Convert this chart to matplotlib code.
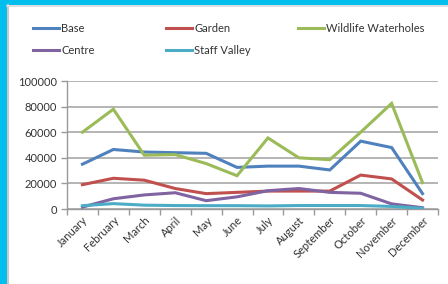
import matplotlib
matplotlib.use("Agg")
import matplotlib.pyplot as plt
from matplotlib.patches import Rectangle
from matplotlib.lines import Line2D

plt.rcParams['font.family'] = ['Lato', 'DejaVu Sans']

months = ["January", "February", "March", "April", "May", "June", "July",
          "August", "September", "October", "November", "December"]
base = [35000, 46500, 44500, 44000, 43500, 32500, 33500, 33500, 30500, 53000, 48000, 12000]
garden = [19000, 24000, 22500, 16000, 12000, 13000, 14000, 14000, 14000, 26500, 23500, 7000]
wildlife = [60000, 78000, 42000, 42500, 35500, 26000, 55500, 40000, 38500, 60000, 82500, 20500]
centre = [1500, 8000, 11000, 12700, 6500, 9500, 14300, 16000, 13000, 12300, 4000, 1000]
staff = [2600, 4200, 3000, 2700, 2600, 2600, 2400, 2700, 2700, 2700, 2000, 500]

series = [("Base", base, "#4F81BD"),
          ("Garden", garden, "#C0504D"),
          ("Wildlife Waterholes", wildlife, "#9BBB59"),
          ("Centre", centre, "#8064A2"),
          ("Staff Valley", staff, "#4BACC6")]

W, H = 448, 284
fig = plt.figure(figsize=(W / 100, H / 100), dpi=100, facecolor="#00BEEE")

# white panel with thin grey edge on left/top
fig.patches.append(Rectangle((7 / W, 0), 1, 1 - 5 / H, transform=fig.transFigure,
                             facecolor="white", edgecolor="none", zorder=-5))
fig.lines.append(Line2D([8 / W, 8 / W], [0, 1 - 5 / H], transform=fig.transFigure,
                        color="#c8c8c8", lw=1.5, zorder=-4))
fig.lines.append(Line2D([7 / W, 1], [1 - 6 / H, 1 - 6 / H], transform=fig.transFigure,
                        color="#d8d8d8", lw=1.2, zorder=-4))

ax = fig.add_axes([67 / W, 1 - 209 / H, (438 - 67) / W, (209 - 81) / H])
ax.set_facecolor("none")
x = list(range(len(months)))
handles = {}
for name, vals, col in series:
    h, = ax.plot(x, vals, color=col, lw=2.2, solid_joinstyle="miter", zorder=3)
    handles[name] = h

ax.set_xlim(-0.5, 11.5)
ax.set_ylim(0, 100000)
ax.set_yticks(range(0, 100001, 20000))
ax.set_yticklabels([str(v) for v in range(0, 100001, 20000)], fontsize=8, color="#333333")
ax.yaxis.grid(True, color="#b4b4b4", lw=1.4)
ax.set_axisbelow(True)
ax.set_xticks([i - 0.5 for i in range(13)], minor=False)
ax.set_xticklabels([])
ax.set_xticks(x, minor=True)
ax.set_xticklabels(months, minor=True, rotation=45, ha="right", va="top",
                   rotation_mode="anchor", fontsize=8, color="#333333")
ax.tick_params(axis="x", which="minor", length=0, pad=4)
ax.tick_params(axis="x", which="major", length=4, color="#999999", width=1)
ax.tick_params(axis="y", length=4, color="#999999", width=1, pad=3)
for s in ["top", "right"]:
    ax.spines[s].set_visible(False)
ax.spines["left"].set_color("#999999")
ax.spines["bottom"].set_color("#999999")
ax.spines["left"].set_linewidth(1)
ax.spines["bottom"].set_linewidth(1)

# legend: three fixed-width columns like the original
cols = [(["Base", "Centre"], 33), (["Garden", "Staff Valley"], 166), (["Wildlife Waterholes"], 298)]
for names, xpx in cols:
    leg = fig.legend([handles[n] for n in names], names, loc="upper left",
                     bbox_to_anchor=(xpx / W, 1 - 23 / H), frameon=False,
                     fontsize=8, handlelength=2.3, handletextpad=0.25,
                     labelspacing=1.0, borderpad=0, borderaxespad=0,
                     labelcolor="#333333")

fig.savefig("out.png", dpi=100, facecolor=fig.get_facecolor())
